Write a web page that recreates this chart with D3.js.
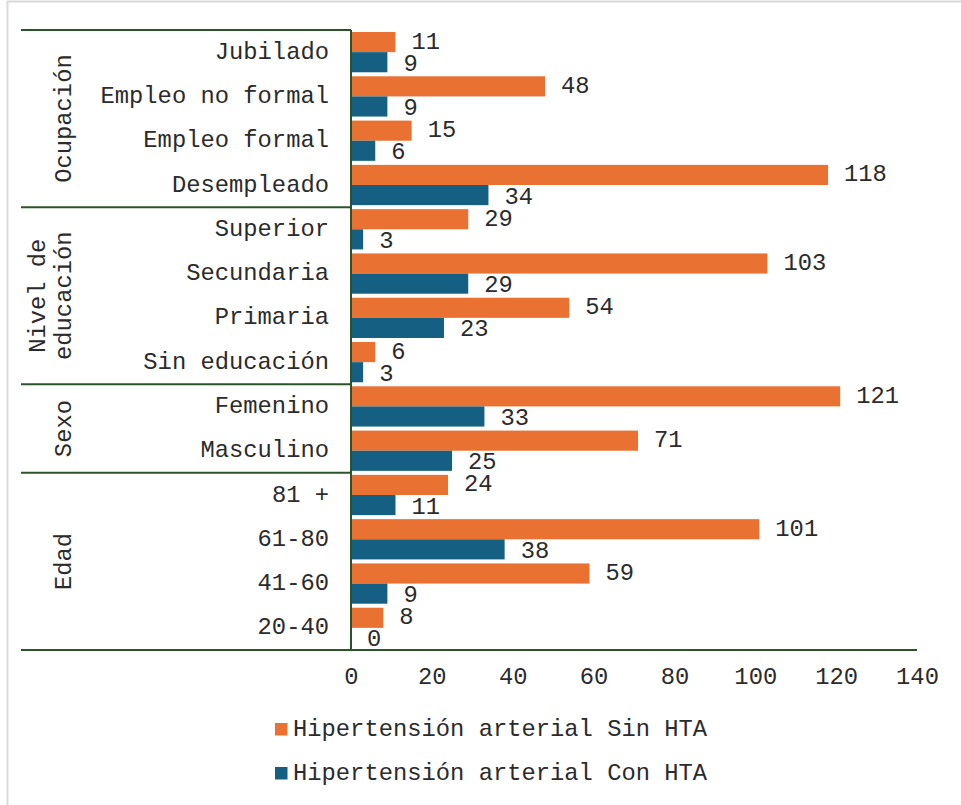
<!DOCTYPE html>
<html>
<head>
<meta charset="utf-8">
<script src="https://cdn.jsdelivr.net/npm/d3@7/dist/d3.min.js"></script>
<style>
  html, body { margin: 0; padding: 0; background: #fff; }
  svg { display: block; }
  text { font-family: "Liberation Mono", "Courier New", monospace; fill: #2b2b2b; }
</style>
</head>
<body>
<svg id="chart" width="961" height="805"></svg>
<script>
// Groups (top to bottom) and their categories
const groups = ["Ocupación", "Nivel de educación", "Sexo", "Edad"];
const groupLines = [["Ocupación"], ["Nivel de", "educación"], ["Sexo"], ["Edad"]];
const categories = [
  "Jubilado", "Empleo no formal", "Empleo formal", "Desempleado",
  "Superior", "Secundaria", "Primaria", "Sin educación",
  "Femenino", "Masculino",
  "81 +", "61-80", "41-60", "20-40"
];
const categoryGroup = [0, 0, 0, 0, 1, 1, 1, 1, 2, 2, 3, 3, 3, 3];

const seriesNames = ["Hipertensión arterial Sin HTA", "Hipertensión arterial Con HTA"];
const sinHTA = [11, 48, 15, 118, 29, 103, 54, 6, 121, 71, 24, 101, 59, 8];
const conHTA = [9, 9, 6, 34, 3, 29, 23, 3, 33, 25, 11, 38, 9, 0];
const xTicks = [0, 20, 40, 60, 80, 100, 120, 140];

const colors = ["#E97132", "#156082"];
const lineColor = "#2a552a";
const fontSize = 23.8;

const svg = d3.select("#chart");

// outer frame
svg.append("rect")
  .attr("x", 7.5).attr("y", 1.5)
  .attr("width", 980).attr("height", 830)
  .attr("fill", "none").attr("stroke", "#d9d9d9").attr("stroke-width", 2);

const plotLeft = 351, plotRight = 917, plotTop = 30, plotBottom = 650, labelLeft = 21;

const x = d3.scaleLinear().domain([0, 140]).range([plotLeft, plotRight]);
const y = d3.scaleBand().domain(d3.range(categories.length)).range([plotTop, plotBottom]).padding(0);
const ySub = d3.scaleBand().domain([0, 1]).range([0, y.bandwidth()]).paddingInner(0).paddingOuter(0.1);

const rows = categories.map((c, i) => ({ i, name: c, values: [sinHTA[i], conHTA[i]] }));

// bars
const rowG = svg.append("g").selectAll("g").data(rows).join("g")
  .attr("transform", d => `translate(0,${y(d.i)})`);

rowG.selectAll("rect").data(d => d.values.map((v, s) => ({ v, s }))).join("rect")
  .attr("x", x(0))
  .attr("y", d => ySub(d.s))
  .attr("width", d => x(d.v) - x(0))
  .attr("height", ySub.bandwidth())
  .attr("fill", d => colors[d.s]);

// value labels
rowG.selectAll("text.val").data(d => d.values.map((v, s) => ({ v, s }))).join("text")
  .attr("class", "val")
  .attr("x", d => x(d.v) + 16)
  .attr("y", d => ySub(d.s) + ySub.bandwidth() / 2 + (d.s === 0 ? 0 : 2))
  .attr("dominant-baseline", "central")
  .attr("font-size", fontSize)
  .text(d => d.v);

// category labels
svg.append("g").selectAll("text").data(rows).join("text")
  .attr("x", 329)
  .attr("y", d => y(d.i) + y.bandwidth() / 2)
  .attr("text-anchor", "end")
  .attr("dominant-baseline", "central")
  .attr("font-size", fontSize)
  .text(d => d.name);

// group extents
const groupExtents = groups.map((g, gi) => {
  const idx = categoryGroup.map((v, i) => v === gi ? i : -1).filter(i => i >= 0);
  return { gi, y0: y(idx[0]), y1: y(idx[idx.length - 1]) + y.bandwidth() };
});

// group separators
const bounds = [plotTop].concat(groupExtents.map(d => d.y1));
svg.append("g").selectAll("line").data(bounds).join("line")
  .attr("x1", labelLeft)
  .attr("x2", (d, i) => i === bounds.length - 1 ? plotRight : plotLeft)
  .attr("y1", d => d).attr("y2", d => d)
  .attr("stroke", lineColor).attr("stroke-width", 2);

// vertical axis line
svg.append("line")
  .attr("x1", plotLeft).attr("x2", plotLeft).attr("y1", plotTop).attr("y2", plotBottom)
  .attr("stroke", lineColor).attr("stroke-width", 2);

// rotated group labels
const gl = svg.append("g").selectAll("text").data(groupExtents).join("text")
  .attr("transform", d => `translate(64,${(d.y0 + d.y1) / 2}) rotate(-90)`)
  .attr("text-anchor", "middle")
  .attr("font-size", fontSize);
gl.each(function (d) {
  const lines = groupLines[d.gi];
  const n = lines.length;
  d3.select(this).selectAll("tspan").data(lines).join("tspan")
    .attr("x", 0)
    .attr("y", (l, k) => (k - (n - 1)) * 26)
    .attr("dominant-baseline", "central")
    .text(l => l);
});

// x axis
const xAxis = svg.append("g")
  .attr("transform", `translate(0,${plotBottom})`)
  .call(d3.axisBottom(x).tickValues(xTicks).tickSize(0).tickPadding(17));
xAxis.select(".domain").remove();
xAxis.selectAll("text")
  .attr("font-size", fontSize)
  .attr("font-family", "Liberation Mono, Courier New, monospace")
  .attr("fill", "#2b2b2b");

// legend
const legend = svg.append("g").selectAll("g").data(seriesNames).join("g")
  .attr("transform", (d, i) => `translate(275,${723 + i * 44})`);
legend.append("rect")
  .attr("width", 12.5).attr("height", 12.5)
  .attr("fill", (d, i) => colors[i]);
legend.append("text")
  .attr("x", 18).attr("y", 6.5)
  .attr("dominant-baseline", "central")
  .attr("font-size", fontSize)
  .text(d => d);
</script>
</body>
</html>
